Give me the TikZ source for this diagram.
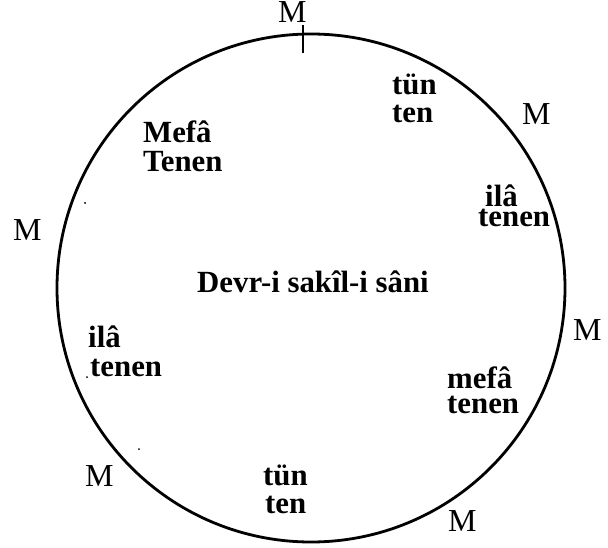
\documentclass[tikz,border=0pt]{standalone}
\usepackage{fontspec}
\setmainfont{Liberation Serif}
\tikzset{
  lbl/.style={anchor=base west, inner sep=0pt, font=\bfseries\fontsize{30.8}{36}\selectfont},
  mlbl/.style={anchor=base west, inner sep=0pt, font=\fontsize{32}{38}\selectfont},
  ring/.style={draw=black, line width=2.8pt},
  dotmark/.style={fill=black, circle, inner sep=0pt, minimum size=2pt}
}
\begin{document}
\begin{tikzpicture}[x=1pt,y=-1pt]
\useasboundingbox (0,0) rectangle (608,548);
\fill[white] (0,0) rectangle (608,548);
% circle
\node[ring, circle, minimum size=508pt, inner sep=0pt] (circ) at (311,288) {};
% tick at top
\coordinate (tickA) at (303,25);
\coordinate (tickB) at (303,53);
\draw[line width=1.5pt] (tickA) -- (tickB);
% M labels
\node[mlbl] (mTop) at (278,23) {M};
\node[mlbl] (mUR) at (522,125) {M};
\node[mlbl] (mL) at (13,241) {M};
\node[mlbl] (mR) at (573,340) {M};
\node[mlbl] (mLL) at (85,486) {M};
\node[mlbl] (mB) at (448,531) {M};
% inner texts
\node[lbl] (tunA) at (392,95) {tün};
\node[lbl] (tunB) at (392,123) {ten};
\node[lbl] (mefA) at (143,143) {Mefâ};
\node[lbl] (mefB) at (143,172) {Tenen};
\node[lbl] (ilaA) at (485,207) {ilâ};
\node[lbl] (ilaB) at (478,227) {tenen};
\node[lbl] (center) at (197,293) {Devr-i sakîl-i sâni};
\node[lbl] (ila2A) at (88,347) {ilâ};
\node[lbl] (ila2B) at (90,376) {tenen};
\node[lbl] (mef2A) at (447,388) {mefâ};
\node[lbl] (mef2B) at (447,413) {tenen};
\node[lbl] (tun2A) at (263,485) {tün};
\node[lbl] (tun2B) at (265,513) {ten};
% stray dots
\node[dotmark] (d1) at (85,203) {};
\node[dotmark] (d2) at (87,377) {};
\node[dotmark] (d3) at (139,449) {};
\end{tikzpicture}
\end{document}
